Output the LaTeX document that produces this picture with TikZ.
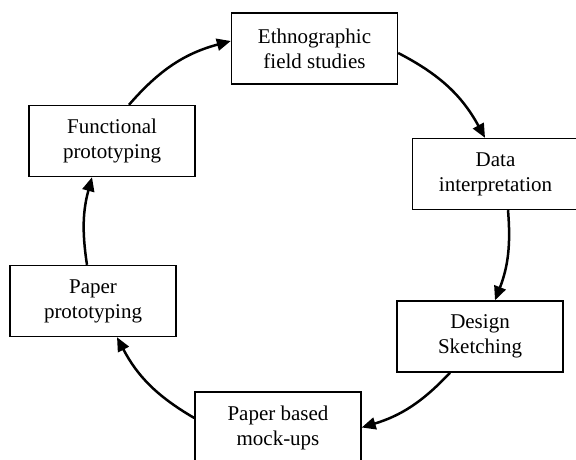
\documentclass[tikz,border=0pt]{standalone}
\usepackage{fontspec}
\setmainfont{Liberation Serif}
\usetikzlibrary{arrows.meta}
\begin{document}
\begin{tikzpicture}[x=1pt,y=-1pt,
  stagebox/.style={draw,line width=1.4pt,minimum width=166pt,minimum height=71pt,inner sep=0pt,align=center,font=\fontsize{21}{25}\selectfont},
  flow/.style={line width=2.5pt,-{Triangle[length=14pt,width=12pt]}}]
\clip (0,0) rectangle (576,459);
\useasboundingbox (0,0) rectangle (576,459);
\node[stagebox] (E) at (314.5,48.5) {Ethnographic\\field studies};
\node[stagebox] (D) at (495.5,174) {Data\\interpretation};
\node[stagebox] (S) at (480,336.5) {Design\\Sketching};
\node[stagebox] (M) at (278,427.5) {Paper based\\mock-ups};
\node[stagebox] (P) at (93,301) {Paper\\prototyping};
\node[stagebox] (F) at (112,141) {Functional\\prototyping};
\draw[flow] ([xshift=17pt]F.north) to[bend left=17] ([yshift=7.5pt]E.west);
\draw[flow] ([yshift=-4.5pt]E.east) to[bend left=17] ([xshift=-10.5pt]D.north);
\draw[flow] ([xshift=12.5pt]D.south) to[bend left=13] ([xshift=15pt]S.north);
\draw[flow] ([xshift=-30pt]S.south) to[bend left=15] (M.east);
\draw[flow] ([yshift=9.5pt]M.west) to[bend left=16] ([xshift=24pt]P.south);
\draw[flow] ([xshift=-6pt]P.north) to[bend left=12] ([xshift=-20pt]F.south);
\end{tikzpicture}
\end{document}
